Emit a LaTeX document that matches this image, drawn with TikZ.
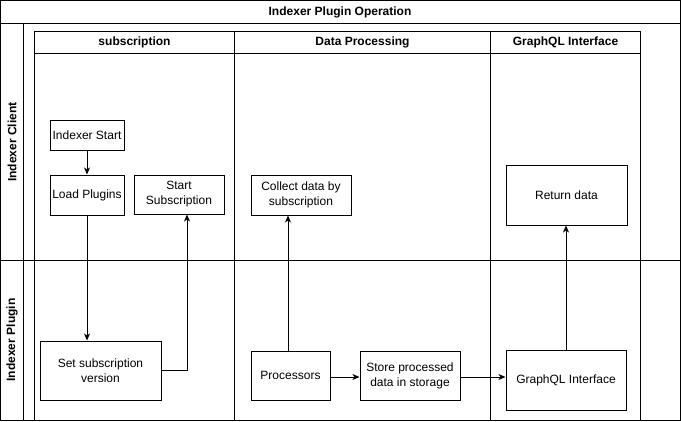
\documentclass[tikz,border=0pt]{standalone}
\usepackage{fontspec}
\setmainfont{Liberation Sans}
\usetikzlibrary{arrows.meta,calc}
\begin{document}
\begin{tikzpicture}[x=1pt,y=-1pt,
  every node/.style={font=\fontsize{12}{15}\selectfont},
  frame/.style={draw=black,line width=1pt},
  hdr/.style={font=\fontsize{12}{14}\selectfont\bfseries,inner sep=0pt},
  stepbox/.style={draw=black,line width=1pt,align=center,inner sep=0pt},
  conn/.style={draw=black,line width=1pt,-{Stealth[length=7pt,width=6pt,inset=2pt]}},
  plain/.style={draw=black,line width=1pt}]
\useasboundingbox (0,0) rectangle (681,421);
\fill[white] (0,0) rectangle (681,421);
% outer pool
\draw[frame] (0.5,0.5) rectangle (680,420);
\draw[frame] (0.5,23.5) -- (680,23.5);
\draw[frame] (23.5,23.5) -- (23.5,420);
\draw[frame] (0.5,260.5) -- (680,260.5);
% inner pool
\draw[frame] (34.5,31) rectangle (640.5,420);
\draw[frame] (34.5,53) -- (640.5,53);
\draw[frame] (234.5,31) -- (234.5,420);
\draw[frame] (490.5,31) -- (490.5,420);
% headers
\node[hdr] (title) at (340,12) {Indexer Plugin Operation};
\node[hdr] (h1) at (134.5,42) {subscription};
\node[hdr] (h2) at (362.5,42) {Data Processing};
\node[hdr] (h3) at (565.5,42) {GraphQL Interface};
\node[hdr,rotate=90] (r1) at (12,142) {Indexer Client};
\node[hdr,rotate=90] (r2) at (12,340) {Indexer Plugin};
% boxes
\node[stepbox,minimum width=74pt,minimum height=30pt] (istart) at (87,135) {Indexer Start};
\node[stepbox,minimum width=74pt,minimum height=40pt] (load) at (87,195) {Load Plugins};
\node[stepbox,minimum width=90pt,minimum height=39pt] (ssub) at (179,194.5) {Start\\Subscription};
\node[stepbox,minimum width=121pt,minimum height=59pt] (ssv) at (100.5,370.5) {Set subscription\\version};
\node[stepbox,minimum width=100pt,minimum height=40pt] (collect) at (301,195) {Collect data by\\subscription};
\node[stepbox,minimum width=121pt,minimum height=60pt] (ret) at (566.5,195) {Return data};
\node[stepbox,minimum width=79pt,minimum height=49pt] (proc) at (290.5,375.5) {Processors};
\node[stepbox,minimum width=100pt,minimum height=49pt] (store) at (410,375.5) {Store processed\\data in storage};
\node[stepbox,minimum width=120pt,minimum height=60pt] (gql) at (566,380) {GraphQL Interface};
% connectors
\draw[conn] (istart.south) -- (load.north);
\draw[conn] (load.south) -- (load.south |- ssv.north);
\draw[conn] (ssv.east) -| ([xshift=8pt]ssub.south);
\draw[conn] ([xshift=-2.5pt]proc.north) -- ([xshift=-2.5pt]proc.north |- collect.south);
\draw[conn] ([yshift=-1.5pt]proc.east) -- ([yshift=-1.5pt]proc.east -| store.west);
\draw[conn] ([yshift=-1.5pt]store.east) -- ([yshift=-1.5pt]store.east -| gql.west);
\draw[conn] (gql.north) -- (gql.north |- ret.south);
\end{tikzpicture}
\end{document}
